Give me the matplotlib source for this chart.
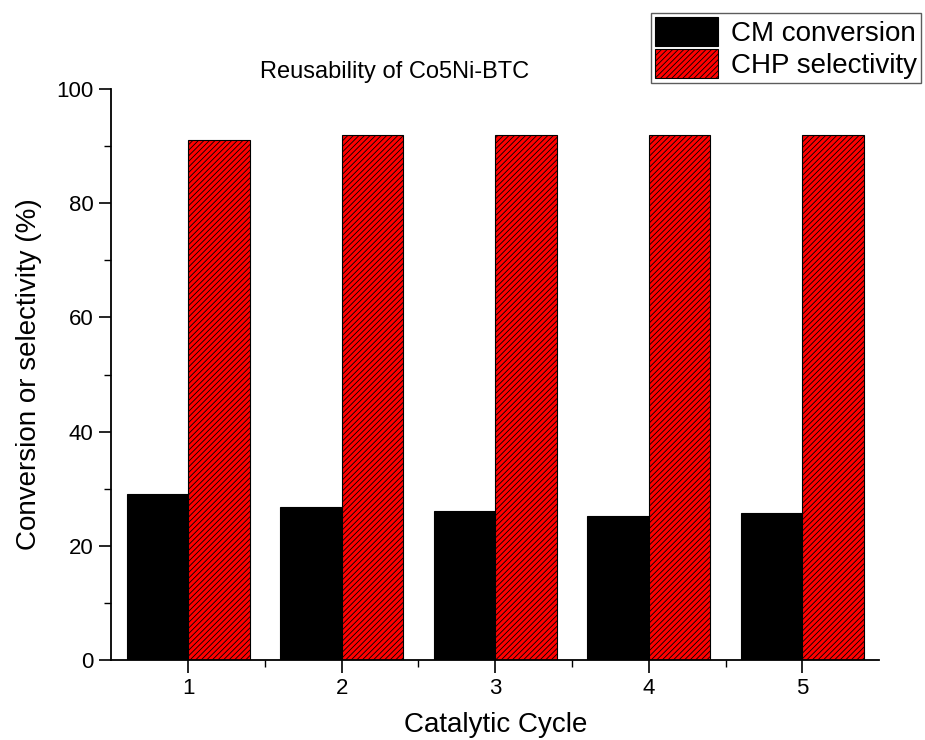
import matplotlib
matplotlib.use("Agg")
import matplotlib.pyplot as plt
import numpy as np
from matplotlib.ticker import MultipleLocator, FixedLocator

plt.rcParams['font.family'] = ['Liberation Sans', 'DejaVu Sans']
plt.rcParams['hatch.linewidth'] = 0.6

cycles = [1, 2, 3, 4, 5]
cm_conversion = [29.0, 26.8, 26.1, 25.3, 25.8]
chp_selectivity = [91.0, 92.0, 92.0, 92.0, 92.0]

fig = plt.figure(figsize=(9.25, 7.4), dpi=100)
ax = fig.add_axes([0.1205, 0.108, 0.8298, 0.7717])

x = np.array(cycles, dtype=float)
w = 0.4
ax.bar(x - w/2, cm_conversion, width=w, color='black', edgecolor='black',
       linewidth=0.8, label='CM conversion')
ax.bar(x + w/2, chp_selectivity, width=w, color='#ff0000', edgecolor='black',
       linewidth=0.8, hatch='//////', label='CHP selectivity')

ax.set_xlim(0.5, 5.5)
ax.set_ylim(0, 100)
ax.set_xticks(cycles)
ax.set_xticklabels([str(c) for c in cycles])
ax.xaxis.set_minor_locator(FixedLocator([1.5, 2.5, 3.5, 4.5]))
ax.yaxis.set_major_locator(MultipleLocator(20))
ax.yaxis.set_minor_locator(MultipleLocator(10))
ax.tick_params(axis='both', which='major', direction='out', length=9, width=1.2,
               labelsize=16, pad=4)
ax.tick_params(axis='both', which='minor', direction='out', length=5, width=1.0)
ax.spines['top'].set_visible(False)
ax.spines['right'].set_visible(False)
ax.spines['left'].set_linewidth(1.3)
ax.spines['bottom'].set_linewidth(1.3)

ax.set_xlabel('Catalytic Cycle', fontsize=20, labelpad=9)
ax.set_ylabel('Conversion or selectivity (%)', fontsize=20, labelpad=10)
fig.text(395/925, 1 - 72/740, 'Reusability of Co5Ni-BTC', fontsize=17,
         ha='center', va='center')

leg = fig.legend(loc='upper left', bbox_to_anchor=(651/925, 1 - 13/740),
                 fontsize=20, frameon=True, fancybox=False, edgecolor='#333333',
                 handlelength=2.27, handleheight=1.22, labelspacing=0.07,
                 borderpad=0.15, handletextpad=0.45, borderaxespad=0)
leg.get_frame().set_linewidth(1.0)

fig.savefig('out.png', dpi=100)
